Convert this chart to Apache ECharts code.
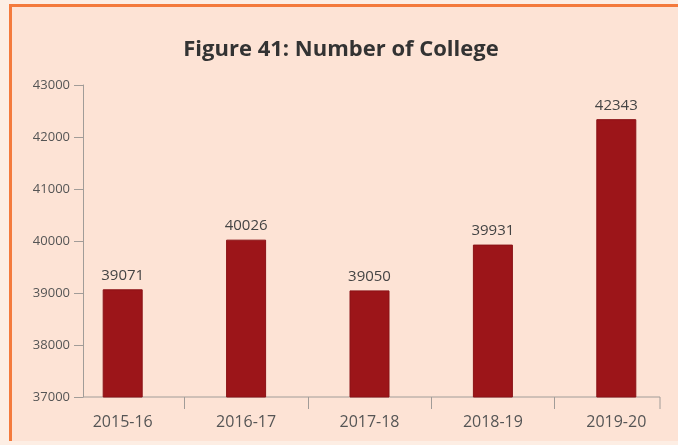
<!DOCTYPE html>
<html>
<head>
<meta charset="utf-8">
<script src="https://cdn.jsdelivr.net/npm/echarts@6/dist/echarts.min.js"></script>
<style>
  html, body { margin: 0; padding: 0; background: #fdeee4; }
  .frame {
    position: absolute; left: 9px; top: 4px; width: 680px; height: 434px;
    background: #fde3d5;
    border-left: 3px solid #f47a3c; border-top: 3px solid #f47a3c;
  }
  #chart { position: absolute; left: 0; top: 0; width: 678px; height: 445px; }
</style>
</head>
<body>
<div class="frame"></div>
<div id="chart"></div>
<script>
const years = ["2015-16", "2016-17", "2017-18", "2018-19", "2019-20"];
const colleges = [39071, 40026, 39050, 39931, 42343];
const yTicks = { min: 37000, max: 43000, step: 1000 };

const chart = echarts.init(document.getElementById("chart"));
const axisGrey = "#a19c98";
const textGrey = "#555";

const option = {
  backgroundColor: "transparent",
  title: {
    text: "Figure 41: Number of College",
    left: 336,
    textAlign: "center",
    top: 34,
    textStyle: { fontFamily: "Open Sans", fontWeight: "bold", fontSize: 22, color: "#333" },
  },
  grid: { left: 61, width: 620, top: 85, height: 312 },
  xAxis: {
    type: "category",
    data: years,
    boundaryGap: true,
    axisLine: { show: false },
    axisTick: {
      show: true,
      length: 12,
      interval: (idx) => idx !== 0,
      lineStyle: { color: axisGrey },
    },
    axisLabel: { color: textGrey, fontSize: 16, margin: 17, fontFamily: "Open Sans" },
  },
  yAxis: {
    type: "value",
    min: yTicks.min,
    max: yTicks.max,
    interval: yTicks.step,
    offset: -22,
    splitLine: { show: false },
    axisLine: { show: true, lineStyle: { color: axisGrey } },
    axisTick: { show: true, length: 9, lineStyle: { color: axisGrey } },
    axisLabel: {
      color: textGrey,
      fontSize: 13,
      margin: 13,
      fontFamily: "Open Sans",
      formatter: (v) => String(v),
    },
  },
  series: [
    {
      type: "bar",
      data: colleges,
      barWidth: 40,
      itemStyle: { color: "#9c1519", borderColor: "#8a1216", borderWidth: 1 },
      label: {
        show: true,
        position: "top",
        distance: 6,
        color: "#444",
        fontSize: 15,
        fontFamily: "Open Sans",
      },
    },
  ],
};
chart.setOption(option);

// x-axis baseline runs from the y-axis to the last end tick
const y0 = chart.convertToPixel({ yAxisIndex: 0 }, yTicks.min);
chart.setOption({
  graphic: [
    { type: "line", shape: { x1: 83, y1: y0, x2: 660, y2: y0 }, style: { stroke: axisGrey, lineWidth: 1 } },
    { type: "line", shape: { x1: 660, y1: y0, x2: 660, y2: y0 + 12 }, style: { stroke: axisGrey, lineWidth: 1 } },
  ],
});
</script>
</body>
</html>
